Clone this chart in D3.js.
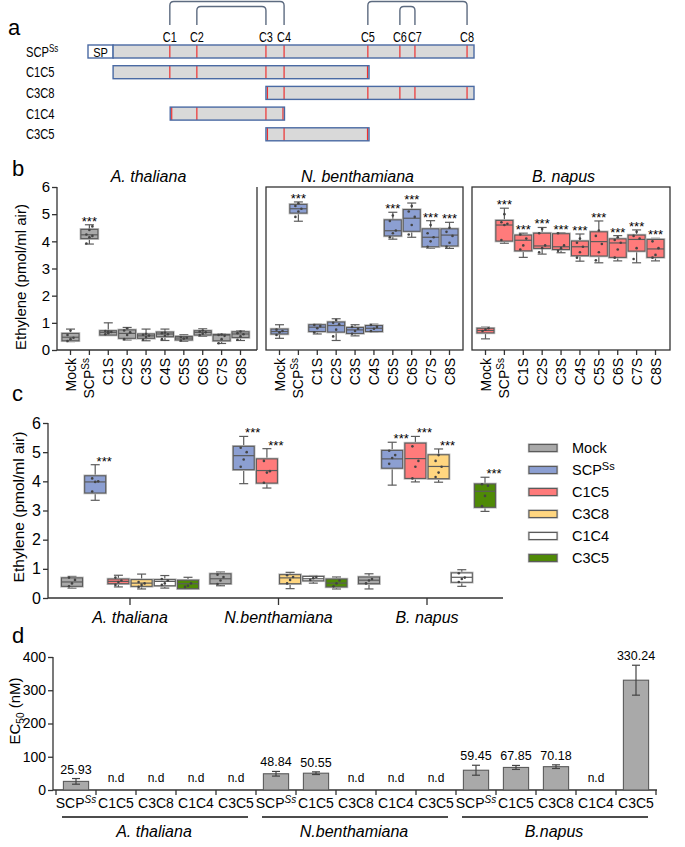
<!DOCTYPE html>
<html><head><meta charset="utf-8">
<script src="https://cdn.jsdelivr.net/npm/d3@7/dist/d3.min.js"></script>
<style>
body{margin:0;background:#fff;}
svg{font-family:Arial,"Liberation Sans",sans-serif;}
</style></head><body>
<svg id="chart" width="685" height="847"></svg>
<script>
// ---------------- DATA ----------------
// panel a (positions in arbitrary residue units, 0..100)
const cysNames = ["C1","C2","C3","C4","C5","C6","C7","C8"];
const cysPos = [21.2,28.2,46.1,50.8,72.5,80.8,84.7,98.2];
const spEnd = 6.5;
const constructNames = ["SCP","C1C5","C3C8","C1C4","C3C5"];
const constructStart = [0,6.5,46.1,21.3,46.1];
const constructEnd = [100,72.8,100,50.9,72.8];
const bondPairs = [[0,3],[1,2],[4,7],[5,6]];
const bondLevel = [0,1,0,1];

// panel b: [lowWhisker, q1, median, q3, highWhisker]
const bCats = ["Mock","SCP","C1S","C2S","C3S","C4S","C5S","C6S","C7S","C8S"];
const bSpecies = ["A. thaliana","N. benthamiana","B. napus"];
const bAth = [[0.31,0.34,0.47,0.61,0.77],[3.90,4.10,4.24,4.44,4.61],[0.55,0.55,0.65,0.71,1.00],[0.37,0.43,0.61,0.74,0.83],[0.34,0.43,0.52,0.59,0.77],[0.35,0.49,0.59,0.66,0.77],[0.32,0.37,0.44,0.50,0.56],[0.50,0.55,0.65,0.71,0.78],[0.24,0.34,0.55,0.57,0.60],[0.35,0.46,0.59,0.67,0.71]];
const bNbe = [[0.43,0.59,0.68,0.77,0.93],[4.74,5.04,5.20,5.36,5.45],[0.59,0.68,0.84,0.93,0.95],[0.35,0.66,0.90,1.03,1.15],[0.52,0.61,0.74,0.83,0.93],[0.66,0.68,0.80,0.90,0.95],[4.08,4.20,4.39,4.79,5.07],[4.15,4.37,4.85,5.17,5.41],[3.75,3.80,4.15,4.46,4.76],[3.74,3.83,4.23,4.46,4.70]];
const bBna = [[0.41,0.63,0.72,0.80,0.84],[3.93,4.01,4.60,4.77,5.22],[3.41,3.65,4.04,4.23,4.30],[3.53,3.74,3.83,4.30,4.51],[3.58,3.70,3.80,4.28,4.32],[3.27,3.47,3.80,4.01,4.27],[3.21,3.46,3.99,4.35,4.75],[3.28,3.41,3.94,4.09,4.21],[3.21,3.64,4.07,4.23,4.42],[3.28,3.41,3.72,4.07,4.11]];
const bAthPts = [[0.33,0.40,0.45,0.55,0.72],[3.92,4.15,4.20,4.25,4.42,4.55],[0.58,0.62,0.66,0.70,0.68],[0.40,0.55,0.65,0.72,0.80],[0.38,0.48,0.53,0.56,0.60],[0.40,0.52,0.58,0.62,0.64],[0.35,0.42,0.45,0.48],[0.55,0.60,0.65,0.68,0.72],[0.25,0.40,0.52,0.55,0.57],[0.38,0.50,0.58,0.62,0.68]];
const bNbePts = [[0.55,0.65,0.70,0.75],[4.90,5.10,5.20,5.30,5.40],[0.65,0.80,0.88,0.92],[0.50,0.75,0.95,1.00,1.10],[0.60,0.70,0.78,0.85],[0.70,0.78,0.85,0.92],[4.15,4.30,4.40,4.75,4.95],[4.25,4.60,4.90,5.10,5.30],[3.80,4.00,4.15,4.30,4.60],[3.80,3.95,4.20,4.35,4.50]];
const bBnaPts = [[0.70,0.75,0.80],[4.05,4.60,4.65,4.70,5.00],[3.70,3.85,4.10,4.25],[3.60,3.75,3.85,4.30,4.45],[3.65,3.75,3.85,4.30],[3.40,3.60,3.80,3.95,4.10],[3.30,3.60,3.90,4.20,4.40],[3.40,3.70,3.95,4.05,4.15],[3.35,3.75,4.10,4.20,4.35],[3.40,3.50,3.75,4.00]];
const bAthSig = [0,1,0,0,0,0,0,0,0,0];
const bNbeSig = [0,1,0,0,0,0,1,1,1,1];
const bBnaSig = [0,1,1,1,1,1,1,1,1,1];
const bTicks = [0,1,2,3,4,5,6];

// panel c
const cGroups = ["A. thaliana","N.benthamiana","B. napus"];
const cSeries = ["Mock","SCP","C1C5","C3C8","C1C4","C3C5"];
const cAth = [[0.34,0.40,0.55,0.69,0.74],[3.35,3.60,3.98,4.19,4.57],[0.38,0.49,0.57,0.65,0.78],[0.31,0.40,0.51,0.63,0.82],[0.34,0.42,0.57,0.63,0.77],[0.31,0.32,0.49,0.61,0.71]];
const cNbe = [[0.42,0.49,0.66,0.83,0.89],[3.92,4.40,4.88,5.20,5.54],[3.77,3.94,4.37,4.77,5.12],[0.32,0.49,0.69,0.80,0.88],[0.51,0.59,0.66,0.74,0.77],[0.31,0.38,0.51,0.65,0.72]];
const cBna = [[0.31,0.49,0.61,0.72,0.83],[3.87,4.45,4.77,5.06,5.34],[3.98,4.10,4.78,5.31,5.54],[3.97,4.09,4.51,4.91,5.11],[0.40,0.54,0.71,0.86,0.97],[2.97,3.11,3.66,3.91,4.14]];
const cAthPts = [[0.40,0.50,0.62,0.70],[3.65,3.98,4.00,4.10],[0.45,0.55,0.60,0.70],[0.38,0.45,0.50,0.55],[0.45,0.50,0.60,0.65],[0.38,0.42,0.50]];
const cNbePts = [[0.48,0.60,0.72,0.80],[4.50,4.75,5.00,5.15],[3.95,4.30,4.35,4.70],[0.50,0.62,0.72,0.78],[0.62,0.68,0.72],[0.40,0.50,0.60]];
const cBnaPts = [[0.50,0.60,0.65],[4.60,4.80,4.90,5.05],[4.10,4.50,4.70,5.20],[4.15,4.30,4.50,4.70,4.90],[0.55,0.65,0.70,0.85],[3.15,3.50,3.85,3.90]];
const cAthSig = [0,1,0,0,0,0];
const cNbeSig = [0,1,1,0,0,0];
const cBnaSig = [0,1,1,1,0,1];
const cTicks = [0,1,2,3,4,5,6];

// panel d
const dGroups = ["A. thaliana","N.benthamiana","B.napus"];
const dConstructs = ["SCP","C1C5","C3C8","C1C4","C3C5"];
const dValues = [25.93,null,null,null,null,48.84,50.55,null,null,null,59.45,67.85,70.18,null,330.24];
const dErr = [8.5,0,0,0,0,7,4,0,0,0,15,6,5.5,0,45];
const dTicks = [0,100,200,300,400];

// ---------------- STYLE ----------------
const colGrey = "#a9a9a9", colBlue = "#8c9fd2", colRed = "#ff7b7b", colYellow = "#ffd680", colWhite = "#ffffff", colGreen = "#4f8a06";
const seriesColors = [colGrey, colBlue, colRed, colYellow, colWhite, colGreen];
const axisCol = "#333";
const svg = d3.select("#chart");

function addSCP(sel, supSize, italicSup){
  sel.append("tspan").text("SCP");
  sel.append("tspan").attr("dy",-5).attr("font-size",supSize).attr("font-style",italicSup?"italic":null).text("Ss");
}
function panelLabel(t,x,y){
  svg.append("text").attr("x",x).attr("y",y).attr("font-size",22).text(t);
}

// ---------------- PANEL A ----------------
panelLabel("a",8,35);
const ax = d3.scaleLinear().domain([0,100]).range([88,474]);
const rowY = d3.scalePoint().domain(constructNames).range([51.5,134.3]);
const ga = svg.append("g");
// brackets
bondPairs.forEach((p,i)=>{
  const x1 = ax(cysPos[p[0]]), x2 = ax(cysPos[p[1]]);
  const top = bondLevel[i]===0 ? 1.5 : 6.5, bot = 25, r = 4;
  ga.append("path").attr("d",`M${x1},${bot} V${top+r} Q${x1},${top} ${x1+r},${top} H${x2-r} Q${x2},${top} ${x2},${top+r} V${bot}`)
    .attr("fill","none").attr("stroke","#5d6b80").attr("stroke-width",1.4);
});
cysNames.forEach((n,i)=>{
  ga.append("text").attr("transform",`translate(${ax(cysPos[i])},42) scale(0.78,1)`).attr("text-anchor","middle").attr("font-size",14).text(n);
});
constructNames.forEach((n,i)=>{
  const cy = rowY(n), h = 13;
  const lab = ga.append("text").attr("transform",`translate(26,${cy+5}) scale(0.8,1)`).attr("font-size",14);
  if(n==="SCP") addSCP(lab,10,false); else lab.text(n);
  let s = constructStart[i];
  if(i===0){
    ga.append("rect").attr("x",ax(0)).attr("y",cy-h/2).attr("width",ax(spEnd)-ax(0)).attr("height",h)
      .attr("fill","#fff").attr("stroke","#4a6aa3").attr("stroke-width",1.4);
    ga.append("text").attr("transform",`translate(${(ax(0)+ax(spEnd))/2},${cy+5}) scale(0.85,1)`).attr("text-anchor","middle").attr("font-size",13).text("SP");
    s = spEnd;
  }
  ga.append("rect").attr("x",ax(s)).attr("y",cy-h/2).attr("width",ax(constructEnd[i])-ax(s)).attr("height",h)
    .attr("fill","#d9d9d9");
  cysPos.forEach(c=>{
    if(c>=constructStart[i]-0.2 && c<=constructEnd[i]+0.2){
      const xx = Math.min(Math.max(ax(c), ax(s)+1.5), ax(constructEnd[i])-1.5);
      ga.append("line").attr("x1",xx).attr("x2",xx).attr("y1",cy-h/2).attr("y2",cy+h/2).attr("stroke","#ee3030").attr("stroke-width",1.2);
    }
  });
  ga.append("rect").attr("x",ax(s)).attr("y",cy-h/2).attr("width",ax(constructEnd[i])-ax(s)).attr("height",h)
    .attr("fill","none").attr("stroke","#4a6aa3").attr("stroke-width",1.4);
});

// ---------------- BOX helper ----------------
function drawBox(g, x, w, d, pts, color, y, sig, starDx){
  const [lo,q1,med,q3,hi] = d;
  const st = "#5b5b5b";
  g.append("line").attr("x1",x).attr("x2",x).attr("y1",y(hi)).attr("y2",y(q3)).attr("stroke",st).attr("stroke-width",1.2);
  g.append("line").attr("x1",x).attr("x2",x).attr("y1",y(q1)).attr("y2",y(lo)).attr("stroke",st).attr("stroke-width",1.2);
  [lo,hi].forEach(v=>g.append("line").attr("x1",x-4.5).attr("x2",x+4.5).attr("y1",y(v)).attr("y2",y(v)).attr("stroke",st).attr("stroke-width",1.2));
  g.append("rect").attr("x",x-w/2).attr("y",y(q3)).attr("width",w).attr("height",Math.max(1,y(q1)-y(q3)))
    .attr("fill",color).attr("stroke","#bdbdbd").attr("stroke-width",2.6);
  g.append("rect").attr("x",x-w/2).attr("y",y(q3)).attr("width",w).attr("height",Math.max(1,y(q1)-y(q3)))
    .attr("fill",color).attr("stroke",st).attr("stroke-width",1.1);
  g.append("line").attr("x1",x-w/2).attr("x2",x+w/2).attr("y1",y(med)).attr("y2",y(med)).attr("stroke",st).attr("stroke-width",1.2);
  pts.forEach((p,i)=>{
    g.append("circle").attr("cx",x+((i%3)-1)*3).attr("cy",y(p)).attr("r",1.3).attr("fill","#444");
  });
  if(sig){
    g.append("text").attr("x",x+(starDx||0)).attr("y",y(hi)+1).attr("text-anchor","middle").attr("font-size",13).text("***");
  }
}

// ---------------- PANEL B ----------------
panelLabel("b",12,176);
const yB = d3.scaleLinear().domain([0,6]).range([350,187]);
const bFrames = [[57,257],[266,463],[472,670]];
const bData = [bAth,bNbe,bBna], bPts = [bAthPts,bNbePts,bBnaPts], bSig = [bAthSig,bNbeSig,bBnaSig];
const bCols = [colGrey,colBlue,colRed];
bFrames.forEach((f,pi)=>{
  const g = svg.append("g");
  const x = d3.scalePoint().domain(bCats).range([f[0]+13.5, f[0]+13.5+170]);
  if(pi===0){
    g.append("path").attr("d",`M${f[0]},${yB(6)} V350 H${f[1]} M${f[1]},${yB(6)} V350`).attr("fill","none").attr("stroke",axisCol).attr("stroke-width",1.3);
    const yAx = g.append("g").attr("transform",`translate(${f[0]},0)`).call(d3.axisLeft(yB).tickValues(bTicks).tickSize(5).tickFormat(d3.format("d")));
    yAx.select(".domain").remove();
    yAx.selectAll("line").attr("stroke",axisCol).attr("stroke-width",1.3);
    yAx.selectAll("text").attr("font-size",15).attr("font-family","Arial, Liberation Sans, sans-serif").attr("fill","#000").attr("x",-7);
  } else {
    g.append("rect").attr("x",f[0]).attr("y",yB(6)).attr("width",f[1]-f[0]).attr("height",350-yB(6)).attr("fill","none").attr("stroke",axisCol).attr("stroke-width",1.3);
  }
  g.append("text").attr("x",(x.range()[0]+x.range()[1])/2-7).attr("y",182).attr("text-anchor","middle").attr("font-size",16).attr("font-style","italic").text(bSpecies[pi]);
  bCats.forEach((c,i)=>{
    g.append("line").attr("x1",x(c)).attr("x2",x(c)).attr("y1",350).attr("y2",355).attr("stroke",axisCol).attr("stroke-width",1.3);
    const t = g.append("text").attr("transform",`translate(${x(c)+5},358) rotate(-90)`).attr("text-anchor","end").attr("font-size",14);
    if(c==="SCP") addSCP(t,10,false); else t.text(c);
    drawBox(g, x(c), 17, bData[pi][i], bPts[pi][i], bCols[pi], yB, bSig[pi][i], 0);
  });
});
svg.append("text").attr("transform","translate(26,277) rotate(-90)").attr("text-anchor","middle").attr("font-size",15).text("Ethylene (pmol/ml air)");

// ---------------- PANEL C ----------------
panelLabel("c",12,401);
const yC = d3.scaleLinear().domain([0,6]).range([598,423]);
const xC = d3.scalePoint().domain(cGroups).range([130,427]);
const xS = d3.scalePoint().domain(cSeries).range([-58,58]);
const gc = svg.append("g");
gc.append("path").attr("d",`M48,${yC(6)} V598 H503`).attr("fill","none").attr("stroke",axisCol).attr("stroke-width",1.3);
const yAxC = gc.append("g").attr("transform","translate(48,0)").call(d3.axisLeft(yC).tickValues(cTicks).tickSize(5).tickFormat(d3.format("d")));
yAxC.select(".domain").remove();
yAxC.selectAll("line").attr("stroke",axisCol).attr("stroke-width",1.3);
yAxC.selectAll("text").attr("font-size",16).attr("font-family","Arial, Liberation Sans, sans-serif").attr("fill","#000").attr("x",-7);
const cData = [cAth,cNbe,cBna], cPts = [cAthPts,cNbePts,cBnaPts], cSig = [cAthSig,cNbeSig,cBnaSig];
cGroups.forEach((gname,gi)=>{
  gc.append("line").attr("x1",xC(gname)).attr("x2",xC(gname)).attr("y1",598).attr("y2",605).attr("stroke",axisCol).attr("stroke-width",1.3);
  gc.append("text").attr("x",xC(gname)).attr("y",623).attr("text-anchor","middle").attr("font-size",16).attr("font-style","italic").text(gname);
  cSeries.forEach((s,si)=>{
    drawBox(gc, xC(gname)+xS(s), 21, cData[gi][si], cPts[gi][si], seriesColors[si], yC, cSig[gi][si], 9);
  });
});
svg.append("text").attr("transform","translate(24,507) rotate(-90)").attr("text-anchor","middle").attr("font-size",15.5).text("Ethylene (pmol/ml air)");
// legend
const legY = d3.scalePoint().domain(cSeries).range([448,558]);
cSeries.forEach((s,si)=>{
  const yy = legY(s);
  gc.append("rect").attr("x",529).attr("y",yy-3.5).attr("width",28).attr("height",7).attr("fill",seriesColors[si]).attr("stroke","#bdbdbd").attr("stroke-width",2.4);
  gc.append("rect").attr("x",529).attr("y",yy-3.5).attr("width",28).attr("height",7).attr("fill",seriesColors[si]).attr("stroke","#5b5b5b").attr("stroke-width",1.1);
  const t = gc.append("text").attr("x",572).attr("y",yy+5).attr("font-size",14.5);
  if(s==="SCP") addSCP(t,11,false); else t.text(s);
});

// ---------------- PANEL D ----------------
panelLabel("d",12,643);
const dCats = d3.range(dValues.length);
const xD = d3.scaleBand().domain(dCats).range([56,656]).paddingInner(0.37).paddingOuter(0.185);
const yD = d3.scaleLinear().domain([0,400]).range([790,657]);
const gd = svg.append("g");
gd.append("path").attr("d",`M53,${yD(400)} V790 H657`).attr("fill","none").attr("stroke",axisCol).attr("stroke-width",1.3);
const yAxD = gd.append("g").attr("transform","translate(53,0)").call(d3.axisLeft(yD).tickValues(dTicks).tickSize(5));
yAxD.select(".domain").remove();
yAxD.selectAll("line").attr("stroke",axisCol).attr("stroke-width",1.3);
yAxD.selectAll("text").attr("font-size",14).attr("font-family","Arial, Liberation Sans, sans-serif").attr("fill","#000").attr("x",-7);
const step = xD.step();
d3.range(dValues.length+1).forEach(i=>{
  const xx = 56 + i*step;
  gd.append("line").attr("x1",xx).attr("x2",xx).attr("y1",790).attr("y2",795).attr("stroke",axisCol).attr("stroke-width",1.3);
});
dValues.forEach((v,i)=>{
  const cx = xD(i)+xD.bandwidth()/2;
  const name = dConstructs[i%dConstructs.length];
  const t = gd.append("text").attr("x",cx).attr("y",808).attr("text-anchor","middle").attr("font-size",14);
  if(name==="SCP") addSCP(t,10,true); else t.text(name);
  if(v===null){
    gd.append("text").attr("x",cx).attr("y",782).attr("text-anchor","middle").attr("font-size",12).text("n.d");
    return;
  }
  gd.append("rect").attr("x",xD(i)).attr("y",yD(v)).attr("width",xD.bandwidth()).attr("height",790-yD(v))
    .attr("fill",colGrey).attr("stroke","#5b5b5b").attr("stroke-width",1.1);
  const e = dErr[i];
  gd.append("line").attr("x1",cx).attr("x2",cx).attr("y1",yD(v+e)).attr("y2",yD(v-e)).attr("stroke","#444").attr("stroke-width",1.2);
  [v+e,v-e].forEach(w=>gd.append("line").attr("x1",cx-4).attr("x2",cx+4).attr("y1",yD(w)).attr("y2",yD(w)).attr("stroke","#444").attr("stroke-width",1.2));
  gd.append("text").attr("x",cx).attr("y",yD(v+e)-5).attr("text-anchor","middle").attr("font-size",12.5).text(v.toFixed(2));
});
dGroups.forEach((g,gi)=>{
  const x0 = 56 + gi*5*step, x1 = x0 + 5*step;
  gd.append("line").attr("x1",x0+6).attr("x2",x1-8).attr("y1",817).attr("y2",817).attr("stroke","#111").attr("stroke-width",1.3);
  gd.append("text").attr("x",(x0+x1)/2-2).attr("y",837).attr("text-anchor","middle").attr("font-size",16).attr("font-style","italic").text(g);
});
const yl = svg.append("text").attr("transform","translate(20,711) rotate(-90)").attr("text-anchor","middle").attr("font-size",15);
yl.append("tspan").text("EC");
yl.append("tspan").attr("dy",4).attr("font-size",10).text("50");
yl.append("tspan").attr("dy",-4).text(" (nM)");
</script>
</body></html>
